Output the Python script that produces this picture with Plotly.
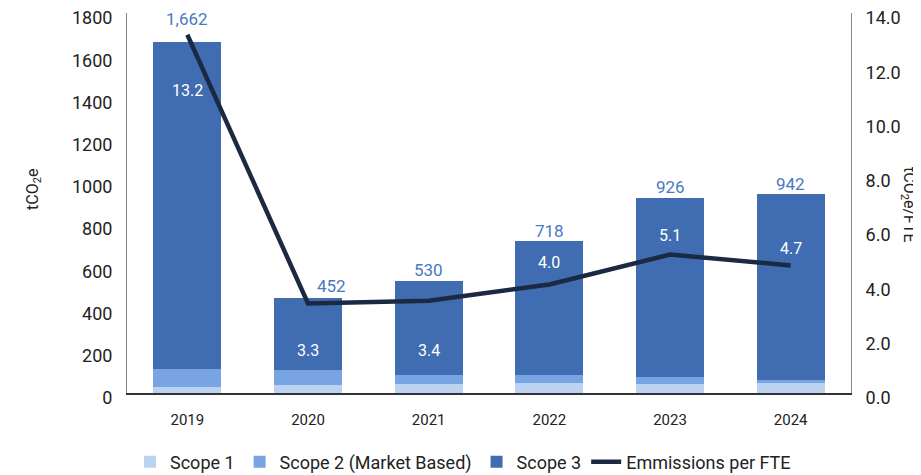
import plotly.graph_objects as go

# Data
years = ["2019", "2020", "2021", "2022", "2023", "2024"]
scope1 = [30, 39, 44, 49, 44, 49]
scope2 = [85, 71, 43, 38, 33, 14]
totals = [1662, 452, 530, 718, 926, 942]
scope3 = [t - a - b for t, a, b in zip(totals, scope1, scope2)]
per_fte = [13.2, 3.3, 3.4, 4.0, 5.1, 4.7]

# Label placement (not data)
total_shift = [23, 12, 11, 10, 11, 10]
total_xshift = [0, 23, 0, 0, 0, 0]
fte_label_y = [11.16, 1.55, 1.55, 4.79, 5.82, 5.34]

FONT = "Roboto"
C_S1 = "#bcd2f1"
C_S2 = "#78a4e4"
C_S3 = "#406cb1"
C_LINE = "#1c2942"
C_TOTAL = "#4a78c2"

# page has an 8px body margin; plot area wanted at page px 127..851 x 13..393
OFF = 8
W, H = 921 - OFF, 475 - OFF
L, T = 127 - OFF, 13 - OFF
R, B = 921 - 851, 475 - 393
pw, ph = W - L - R, H - T - B


def px_x(x):
    return (x - OFF - L) / pw


def px_y(y):
    return (H - B - (y - OFF)) / ph


fig = go.Figure()
fig.add_trace(go.Bar(x=years, y=scope1, name="Scope 1", marker_color=C_S1, marker_line_width=0))
fig.add_trace(go.Bar(x=years, y=scope2, name="Scope 2 (Market Based)", marker_color=C_S2, marker_line_width=0))
fig.add_trace(go.Bar(x=years, y=scope3, name="Scope 3", marker_color=C_S3, marker_line_width=0))
fig.add_trace(go.Scatter(
    x=years, y=per_fte, name="Emmissions per FTE", yaxis="y2", mode="lines",
    line=dict(color=C_LINE, width=4.5),
))

annotations = []
for i, (tot, sh, xs) in enumerate(zip(totals, total_shift, total_xshift)):
    annotations.append(dict(
        x=i, y=tot, xref="x", yref="y", text=f"{tot:,}", showarrow=False,
        yshift=sh, xshift=xs, font=dict(family=FONT, size=17, color=C_TOTAL),
    ))
for i, (v, ly) in enumerate(zip(per_fte, fte_label_y)):
    annotations.append(dict(
        x=i, y=ly, xref="x", yref="y2", text=f"{v:.1f}", showarrow=False,
        font=dict(family=FONT, size=16, color="white"),
    ))
# axis titles
annotations.append(dict(
    x=px_x(33), y=px_y(190), xref="paper", yref="paper", xanchor="center", yanchor="middle",
    text="tCO<sub>2</sub>e", showarrow=False, textangle=-90,
    font=dict(family=FONT, size=16, color="#222"),
))
annotations.append(dict(
    x=px_x(909), y=px_y(205), xref="paper", yref="paper", xanchor="center", yanchor="middle",
    text="tCO<sub>2</sub>e/FTE", showarrow=False, textangle=90,
    font=dict(family=FONT, size=16, color="#222"),
))

fig.update_layout(
    width=W, height=H,
    margin=dict(l=L, r=R, t=T, b=B, autoexpand=False),
    paper_bgcolor="white", plot_bgcolor="white",
    barmode="stack", bargap=0.437,
    font=dict(family=FONT, size=16, color="#222"),
    xaxis=dict(
        type="category", range=[-0.5, 5.5], showline=True, linecolor="#333", linewidth=2,
        showgrid=False, ticks="", tickfont=dict(size=15), ticklabelstandoff=12,
    ),
    yaxis=dict(
        range=[0, 1800], dtick=200, showline=True, linecolor="#888", linewidth=1,
        showgrid=False, zeroline=False, ticks="", tickfont=dict(size=18),
        ticklabelstandoff=10, ticklabelshift=5, ticklabeloverflow="allow",
    ),
    yaxis2=dict(
        range=[0, 14], dtick=2, tickformat=".1f", overlaying="y", side="right",
        showline=True, linecolor="#888", linewidth=1, showgrid=False, zeroline=False,
        ticks="", tickfont=dict(size=18), ticklabelstandoff=10, ticklabelshift=5,
        ticklabeloverflow="allow",
    ),
    legend=dict(
        orientation="h", xref="paper", yref="paper",
        x=px_x(463), xanchor="center",
        y=px_y(462), yanchor="middle",
        font=dict(size=18), traceorder="normal",
    ),
    annotations=annotations,
)

fig.write_html("out.html")
